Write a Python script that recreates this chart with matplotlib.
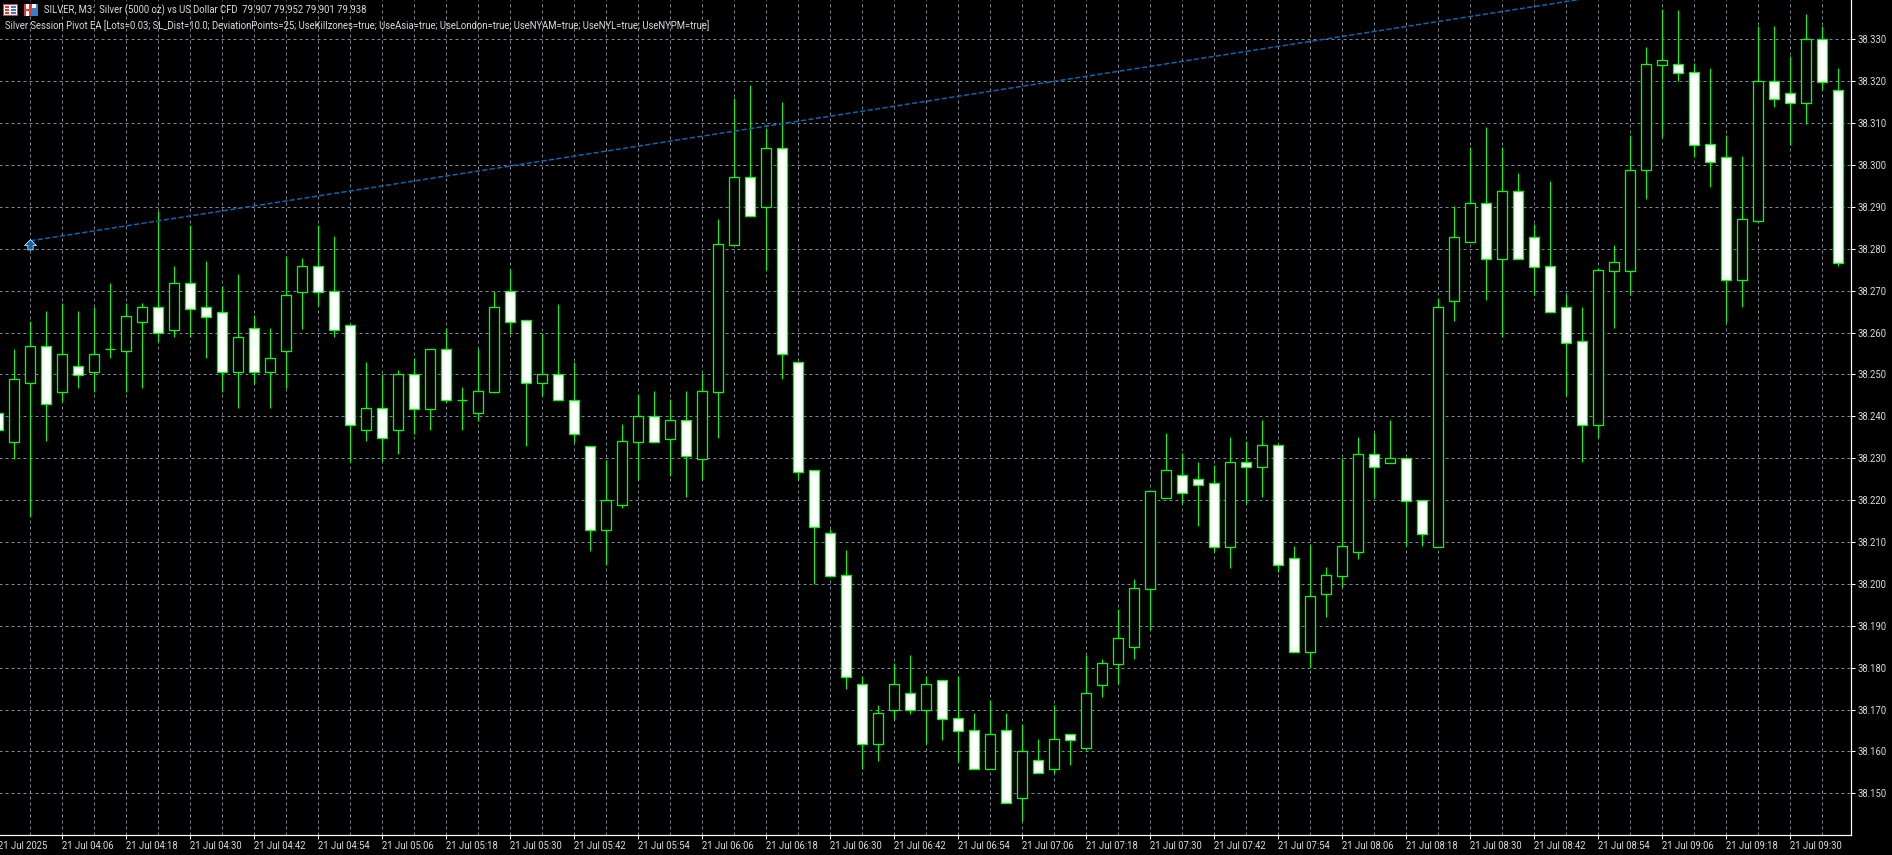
import numpy as np
import matplotlib
matplotlib.use("Agg")
import matplotlib.pyplot as plt
from matplotlib.patches import Rectangle
from matplotlib.ticker import FixedLocator

# bar numbers: 0 is the 04:00 candle, the chart starts two bars earlier
first_bar = -2

opens = [38.2409, 38.2338, 38.2479, 38.2569, 38.2457, 38.2519, 38.2507, 38.2560, 38.2557, 38.2626,
         38.2660, 38.2607, 38.2719, 38.2660, 38.2650, 38.2507, 38.2610, 38.2507, 38.2557, 38.2698,
         38.2760, 38.2700, 38.2619, 38.2367, 38.2419, 38.2367, 38.2500, 38.2417, 38.2560, 38.2440,
         38.2407, 38.2457, 38.2700, 38.2629, 38.2479, 38.2500, 38.2440, 38.2330, 38.2129, 38.2188,
         38.2338, 38.2400, 38.2347, 38.2391, 38.2298, 38.2458, 38.2809, 38.2971, 38.2899, 38.3040,
         38.2529, 38.2271, 38.2121, 38.2021, 38.1761, 38.1617, 38.1698, 38.1739, 38.1698, 38.1770,
         38.1679, 38.1651, 38.1557, 38.1651, 38.1488, 38.1579, 38.1557, 38.1641, 38.1608, 38.1758,
         38.1808, 38.1849, 38.1987, 38.2206, 38.2259, 38.2250, 38.2240, 38.2087, 38.2290, 38.2278,
         38.2331, 38.2062, 38.1837, 38.1977, 38.2018, 38.2077, 38.2310, 38.2288, 38.2300, 38.2200,
         38.2088, 38.2676, 38.2817, 38.2910, 38.2776, 38.2939, 38.2829, 38.2760, 38.2660, 38.2579,
         38.2379, 38.2748, 38.2748, 38.2987, 38.3238, 38.3240, 38.3221, 38.3049, 38.3020, 38.2726,
         38.2867, 38.3200, 38.3171, 38.3147, 38.3300, 38.3180]
highs = [38.2409, 38.2560, 38.2627, 38.2651, 38.2670, 38.2651, 38.2660, 38.2719, 38.2670, 38.2670,
         38.2890, 38.2760, 38.2856, 38.2770, 38.2712, 38.2739, 38.2641, 38.2610, 38.2783, 38.2779,
         38.2856, 38.2830, 38.2619, 38.2529, 38.2500, 38.2510, 38.2540, 38.2560, 38.2612, 38.2469,
         38.2560, 38.2700, 38.2752, 38.2629, 38.2600, 38.2669, 38.2529, 38.2330, 38.2296, 38.2382,
         38.2453, 38.2461, 38.2441, 38.2461, 38.2501, 38.2871, 38.3160, 38.3191, 38.3089, 38.3151,
         38.2529, 38.2271, 38.2131, 38.2081, 38.1781, 38.1711, 38.1811, 38.1831, 38.1781, 38.1770,
         38.1781, 38.1691, 38.1723, 38.1691, 38.1665, 38.1630, 38.1711, 38.1641, 38.1831, 38.1820,
         38.1940, 38.2012, 38.2221, 38.2360, 38.2313, 38.2291, 38.2283, 38.2350, 38.2341, 38.2391,
         38.2331, 38.2091, 38.2095, 38.2041, 38.2300, 38.2350, 38.2360, 38.2391, 38.2300, 38.2200,
         38.2683, 38.2901, 38.3042, 38.3090, 38.3042, 38.2980, 38.2860, 38.2961, 38.2693, 38.2660,
         38.2753, 38.2810, 38.3071, 38.3281, 38.3372, 38.3370, 38.3243, 38.3231, 38.3071, 38.3021,
         38.3332, 38.3332, 38.3260, 38.3361, 38.3332, 38.3231]
lows = [38.2367, 38.2298, 38.2159, 38.2340, 38.2435, 38.2468, 38.2459, 38.2540, 38.2459, 38.2468,
        38.2578, 38.2590, 38.2590, 38.2540, 38.2459, 38.2419, 38.2478, 38.2419, 38.2467, 38.2609,
        38.2664, 38.2590, 38.2290, 38.2340, 38.2294, 38.2309, 38.2359, 38.2367, 38.2435, 38.2368,
        38.2389, 38.2457, 38.2598, 38.2330, 38.2449, 38.2438, 38.2338, 38.2079, 38.2045, 38.2180,
        38.2248, 38.2338, 38.2258, 38.2208, 38.2248, 38.2349, 38.2809, 38.2878, 38.2750, 38.2490,
        38.2248, 38.2000, 38.2018, 38.1750, 38.1559, 38.1578, 38.1676, 38.1690, 38.1619, 38.1628,
        38.1576, 38.1557, 38.1557, 38.1478, 38.1433, 38.1548, 38.1548, 38.1568, 38.1605, 38.1729,
        38.1760, 38.1820, 38.1889, 38.2206, 38.2194, 38.2138, 38.2077, 38.2038, 38.2194, 38.2208,
        38.2029, 38.1837, 38.1800, 38.1921, 38.1992, 38.2060, 38.2206, 38.2288, 38.2090, 38.2090,
        38.2088, 38.2628, 38.2817, 38.2678, 38.2590, 38.2776, 38.2690, 38.2650, 38.2449, 38.2290,
        38.2349, 38.2610, 38.2690, 38.2919, 38.3067, 38.3200, 38.3020, 38.2948, 38.2625, 38.2660,
        38.2865, 38.3139, 38.3047, 38.3099, 38.3180, 38.2760]
closes = [38.2367, 38.2490, 38.2569, 38.2429, 38.2550, 38.2498, 38.2550, 38.2560, 38.2640, 38.2660,
          38.2598, 38.2719, 38.2657, 38.2638, 38.2507, 38.2590, 38.2507, 38.2540, 38.2690, 38.2760,
          38.2698, 38.2607, 38.2379, 38.2419, 38.2348, 38.2500, 38.2417, 38.2560, 38.2438, 38.2440,
          38.2460, 38.2660, 38.2626, 38.2479, 38.2500, 38.2438, 38.2357, 38.2129, 38.2200, 38.2340,
          38.2400, 38.2338, 38.2391, 38.2306, 38.2461, 38.2811, 38.2971, 38.2878, 38.3040, 38.2548,
          38.2268, 38.2137, 38.2018, 38.1777, 38.1617, 38.1691, 38.1761, 38.1698, 38.1761, 38.1677,
          38.1648, 38.1557, 38.1641, 38.1478, 38.1600, 38.1548, 38.1629, 38.1627, 38.1739, 38.1811,
          38.1871, 38.1990, 38.2221, 38.2271, 38.2218, 38.2237, 38.2087, 38.2290, 38.2278, 38.2331,
          38.2046, 38.1837, 38.1971, 38.2021, 38.2090, 38.2310, 38.2279, 38.2300, 38.2198, 38.2119,
          38.2660, 38.2829, 38.2910, 38.2776, 38.2939, 38.2776, 38.2757, 38.2650, 38.2576, 38.2379,
          38.2750, 38.2769, 38.2989, 38.3240, 38.3250, 38.3219, 38.3047, 38.3008, 38.2726, 38.2870,
          38.3200, 38.3157, 38.3147, 38.3300, 38.3197, 38.2767]

# trade line from the entry arrow, it runs out of the top of the chart
trade_bars = [0, 100]
trade_prices = [38.2819, 38.3414]
arrow_bar = 0
arrow_price = 38.2808

time_labels = ["21 Jul 2025", "21 Jul 04:06", "21 Jul 04:18", "21 Jul 04:30", "21 Jul 04:42", "21 Jul 04:54",
               "21 Jul 05:06", "21 Jul 05:18", "21 Jul 05:30", "21 Jul 05:42", "21 Jul 05:54", "21 Jul 06:06",
               "21 Jul 06:18", "21 Jul 06:30", "21 Jul 06:42", "21 Jul 06:54", "21 Jul 07:06", "21 Jul 07:18",
               "21 Jul 07:30", "21 Jul 07:42", "21 Jul 07:54", "21 Jul 08:06", "21 Jul 08:18", "21 Jul 08:30",
               "21 Jul 08:42", "21 Jul 08:54", "21 Jul 09:06", "21 Jul 09:18", "21 Jul 09:30"]
price_ticks = [38.15, 38.16, 38.17, 38.18, 38.19, 38.20, 38.21, 38.22, 38.23, 38.24,
               38.25, 38.26, 38.27, 38.28, 38.29, 38.30, 38.31, 38.32, 38.33]

title_line = "SILVER, M3:  Silver (5000 oz) vs US Dollar CFD  79.907 79.952 79.901 79.938"
ea_line = ("Silver Session Pivot EA [Lots=0.03; SL_Dist=10.0; DeviationPoints=25; UseKillzones=true; "
           "UseAsia=true; UseLondon=true; UseNYAM=true; UseNYL=true; UseNYPM=true]")

W, H = 1892, 855
LIME = "#00ff00"
GRID = "#778899"
BLUE = "#0a66b0"
TEXT = "#dcdcdc"
FONT = 6.85
PX = 0.72  # one pixel in points at dpi 100

plt.rcParams["font.family"] = ["Roboto", "DejaVu Sans"]

fig = plt.figure(figsize=(W / 100, H / 100), dpi=100, facecolor="black")
# axes start a little left of the figure so the first tick and its label stay in
ax = fig.add_axes([-3 / W, 20 / H, 1854 / W, 835 / H], facecolor="black")

opens = np.array(opens)
highs = np.array(highs)
lows = np.array(lows)
closes = np.array(closes)
bars = np.arange(len(opens)) + first_bar

ax.vlines(bars, lows, highs, color=LIME, lw=PX, zorder=3)
faces = ["white" if c < o else "black" for o, c in zip(opens, closes)]
ax.bar(bars, np.abs(closes - opens), bottom=np.minimum(opens, closes), width=0.63,
       color=faces, edgecolor=LIME, linewidth=PX * 1.3, zorder=4)

ax.plot(trade_bars, trade_prices, color=BLUE, lw=PX * 1.5, ls=(0, (3.5, 1.5)), zorder=5)
ax.plot([arrow_bar], [arrow_price], ls="none", ms=8.5, mfc=BLUE, mec="white", mew=0.5, zorder=6,
        marker=[(0, 1), (-1, 0), (-0.45, 0), (-0.45, -0.75), (0.45, -0.75), (0.45, 0), (1, 0), (0, 1)])

ax.set_xlim((-3 - 30.2) / 16, (1851 - 30.2) / 16)
ax.set_ylim(38.33 - (835 - 39.33) / 4189, 38.33 + 39.33 / 4189)

major_bars = [first_bar + 4 * k for k in range(len(time_labels))]
ax.xaxis.set_major_locator(FixedLocator(major_bars))
ax.xaxis.set_minor_locator(FixedLocator([b + 2 for b in major_bars]))
ax.set_xticklabels(time_labels, ha="left")
ax.set_yticks(price_ticks)
ax.set_yticklabels(["%.3f" % p for p in price_ticks])
ax.yaxis.tick_right()

ax.set_axisbelow(True)
ax.grid(True, which="both", color=GRID, lw=PX, ls=(0, (3, 3)))
ax.tick_params(axis="x", which="major", length=3, width=PX, color="white", labelcolor=TEXT,
               labelsize=FONT, pad=1.5)
ax.tick_params(axis="x", which="minor", length=0)
ax.tick_params(axis="y", length=3, width=PX, color="white", labelcolor=TEXT, labelsize=FONT, pad=1.5)

for side in ["top", "left"]:
    ax.spines[side].set_visible(False)
for side in ["right", "bottom"]:
    ax.spines[side].set_color("white")
    ax.spines[side].set_linewidth(PX * 1.2)

fig.text(44 / W, 1 - 10 / H, title_line, color=TEXT, fontsize=FONT, va="center", ha="left")
fig.text(5 / W, 1 - 26 / H, ea_line, color=TEXT, fontsize=FONT, va="center", ha="left")


def icon_box(x, y, w, h, color):
    fig.add_artist(Rectangle((x / W, 1 - (y + h) / H), w / W, h / H, facecolor=color,
                             edgecolor="none", transform=fig.transFigure, zorder=10))


# chart window icons next to the title
icon_box(3, 4, 15, 12, "#e03c31")
icon_box(4, 5, 13, 10, "white")
icon_box(5, 6, 4, 2, "#e03c31")
icon_box(5, 9, 4, 2, "#e03c31")
icon_box(5, 12, 4, 2, "#e03c31")
icon_box(11, 6, 5, 2, "#3a78c8")
icon_box(11, 9, 5, 2, "#3a78c8")
icon_box(11, 12, 5, 2, "#3a78c8")
icon_box(24, 4, 7, 12, "#e03c31")
icon_box(31, 4, 7, 12, "#2f7fd0")
icon_box(26, 4, 3, 5, "white")
icon_box(32, 4, 4, 4, "white")
icon_box(26, 11, 3, 5, "white")

fig.savefig("out.png", dpi=100, facecolor="black")
